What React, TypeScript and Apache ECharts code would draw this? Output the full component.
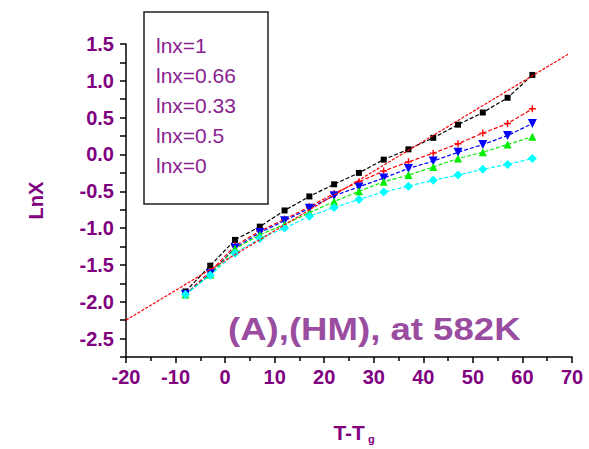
import React, { useEffect, useRef } from "react";
import * as echarts from "echarts";

const xValues = [-8, -3, 2, 7, 12, 17, 22, 27, 32, 37, 42, 47, 52, 57, 62];
const lnx1 = [-1.86, -1.51, -1.16, -0.98, -0.76, -0.57, -0.405, -0.25, -0.07, 0.07, 0.226, 0.405, 0.57, 0.77, 1.08];
const lnx066 = [-1.9, -1.59, -1.24, -1.04, -0.88, -0.71, -0.53, -0.37, -0.225, -0.1, 0.018, 0.145, 0.29, 0.42, 0.62];
const lnx033 = [-1.9, -1.62, -1.27, -1.06, -0.9, -0.73, -0.56, -0.44, -0.32, -0.19, -0.09, 0.03, 0.135, 0.257, 0.42];
const lnx05 = [-1.9, -1.63, -1.28, -1.09, -0.95, -0.79, -0.64, -0.5, -0.37, -0.28, -0.17, -0.055, 0.03, 0.135, 0.24];
const lnx0 = [-1.9, -1.64, -1.34, -1.14, -1.0, -0.84, -0.72, -0.61, -0.51, -0.43, -0.35, -0.28, -0.2, -0.135, -0.055];
const fitX = [-20, 69.2];
const fitY = [-2.25, 1.36];
const legendLabels = ["lnx=1", "lnx=0.66", "lnx=0.33", "lnx=0.5", "lnx=0"];

const PURPLE = "#800080";
const plusPath = "path://M4,0 L6,0 L6,4 L10,4 L10,6 L6,6 L6,10 L4,10 L4,6 L0,6 L0,4 L4,4 Z";

function zip(ys: number[]) {
  return xValues.map((x, i) => [x, ys[i]]);
}

export default function App() {
  const ref = useRef<HTMLDivElement>(null);
  useEffect(() => {
    if (!ref.current) return;
    const chart = echarts.init(ref.current, undefined, { renderer: "svg" });
    const seriesDefs = [
      { name: legendLabels[0], data: lnx1, color: "#000000", symbol: "rect", size: 6 },
      { name: legendLabels[1], data: lnx066, color: "#ff0000", symbol: plusPath, size: 7 },
      { name: legendLabels[2], data: lnx033, color: "#0000ff", symbol: "triangle", size: 9, rotate: 180 },
      { name: legendLabels[3], data: lnx05, color: "#00ee00", symbol: "triangle", size: 8 },
      { name: legendLabels[4], data: lnx0, color: "#00ffff", symbol: "diamond", size: 9 },
    ];
    chart.setOption({
      animation: false,
      grid: { left: 126, top: 44, width: 446, height: 316, containLabel: false },
      xAxis: {
        type: "value",
        min: -20,
        max: 70,
        interval: 10,
        name: "{a|T-T}{b|g}",
        nameLocation: "middle",
        nameGap: 64,
        nameTextStyle: {
          padding: [0, 0, 0, 10],
          rich: {
            a: { fontFamily: "Liberation Sans", fontWeight: "bold", fontSize: 21, color: PURPLE },
            b: { fontFamily: "Liberation Sans", fontWeight: "bold", fontSize: 11, color: PURPLE, padding: [12, 0, 0, 3] },
          },
        },
        axisLine: { show: true, onZero: false, lineStyle: { color: "#000", width: 1.5 } },
        axisTick: { show: true, inside: false, length: 6, lineStyle: { color: "#000", width: 1.5 } },
        minorTick: { show: true, splitNumber: 2, length: 4, lineStyle: { color: "#000", width: 1.5 } },
        splitLine: { show: false },
        axisLabel: {
          color: PURPLE,
          fontFamily: "Liberation Sans",
          fontWeight: "bold",
          fontSize: 20,
          margin: 10,
        },
      },
      yAxis: {
        type: "value",
        min: -2.75,
        max: 1.5,
        interval: 0.25,
        name: "LnX",
        nameLocation: "middle",
        nameGap: 80,
        nameMoveOverlap: false,
        nameTextStyle: { fontFamily: "Liberation Sans", fontWeight: "bold", fontSize: 20, color: PURPLE },
        axisLine: { show: true, onZero: false, lineStyle: { color: "#000", width: 1.5 } },
        axisTick: { show: true, inside: false, length: 6, lineStyle: { color: "#000", width: 1.5 } },
        splitLine: { show: false },
        axisLabel: {
          showMinLabel: true,
          showMaxLabel: true,
          formatter: (v: number) => (Math.abs(Math.round(v * 2) - v * 2) < 1e-6 ? v.toFixed(1) : ""),
          color: PURPLE,
          fontFamily: "Liberation Sans",
          fontWeight: "bold",
          fontSize: 20,
          margin: 12,
        },
      },
      series: [
        {
          type: "line",
          name: "fit",
          data: fitX.map((x, i) => [x, fitY[i]]),
          showSymbol: false,
          symbol: "none",
          lineStyle: { color: "#ff0000", width: 1.2, type: [3, 1.5] },
          z: 3,
        },
        ...seriesDefs.map((s) => ({
          type: "line",
          name: s.name,
          data: zip(s.data),
          symbol: s.symbol,
          symbolSize: s.size,
          symbolRotate: s.rotate || 0,
          showAllSymbol: true,
          itemStyle: { color: s.color },
          lineStyle: { color: s.color, width: 1.2, type: [4, 2] },
          z: 2,
        })),
      ],
      graphic: [
        {
          type: "rect",
          shape: { x: 144, y: 12, width: 124, height: 192 },
          style: { fill: "#fff", stroke: "#222", lineWidth: 1.5 },
          z: 10,
        },
        ...legendLabels.map((t, i) => ({
          type: "text",
          x: 156,
          y: 45 + i * 30,
          z: 11,
          style: {
            text: t,
            fill: "#8a2391",
            fontFamily: "Liberation Sans",
            fontSize: 21,
            verticalAlign: "middle",
          },
        })),
        {
          type: "text",
          x: 228,
          y: 329,
          scaleX: 1.18,
          z: 11,
          style: {
            text: "(A),(HM), at 582K",
            fill: "#9a4ca0",
            fontFamily: "Liberation Sans",
            fontWeight: "bold",
            fontSize: 31,
            verticalAlign: "middle",
          },
        },
      ],
    });
    return () => chart.dispose();
  }, []);
  return <div ref={ref} style={{ width: 589, height: 449, position: "absolute", left: 0, top: 0 }} />;
}
